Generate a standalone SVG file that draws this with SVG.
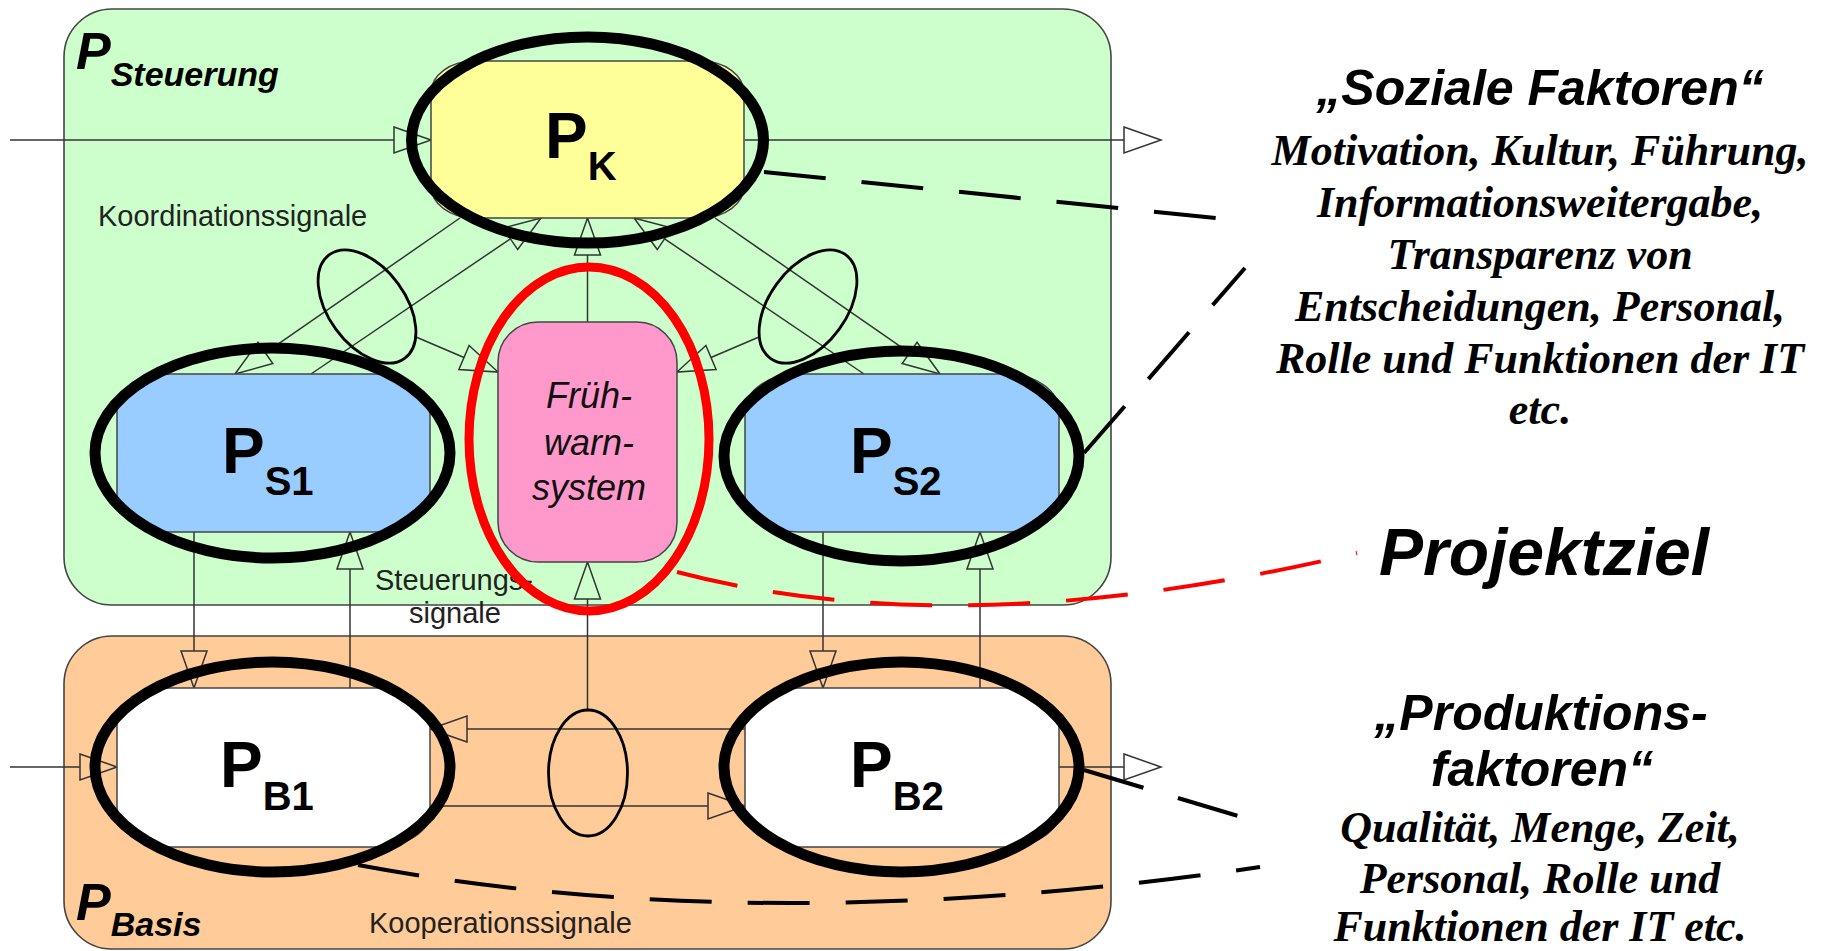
<svg xmlns="http://www.w3.org/2000/svg" width="1825" height="951" viewBox="0 0 1825 951">
<defs>
<style>
.cont{stroke:#444;stroke-width:1.6}
.box{stroke:#444;stroke-width:1.5}
.con{fill:none;stroke:#333;stroke-width:1.5;marker-end:url(#ah)}
.bund{fill:none;stroke:#000;stroke-width:2.8}
.thick{fill:none;stroke:#000;stroke-width:11}
.red{fill:none;stroke:#f00;stroke-width:9}
.dash{fill:none;stroke:#000;stroke-width:4;stroke-dasharray:62 36}
.rdash{fill:none;stroke:#f00;stroke-width:4;stroke-dasharray:62 36}
.lbl{font-family:"Liberation Sans",Arial,sans-serif;font-size:29px;fill:#222}
.np{font-family:"Liberation Sans",Arial,sans-serif;font-weight:bold;font-size:64px;fill:#000}
.sub{font-size:40px}
.cp{font-family:"Liberation Sans",Arial,sans-serif;font-weight:bold;font-style:italic;font-size:52px;fill:#000}
.csub{font-size:34px}
.fws{font-family:"Liberation Sans",Arial,sans-serif;font-style:italic;font-size:36px;text-anchor:middle;fill:#111}
.hd{font-family:"Liberation Sans",Arial,sans-serif;font-weight:bold;font-style:italic;font-size:50px;text-anchor:middle;fill:#000}
.sf{font-family:"Liberation Serif","Times New Roman",serif;font-weight:bold;font-style:italic;font-size:44px;text-anchor:middle;fill:#000}
</style>
<marker id="ah" markerUnits="userSpaceOnUse" markerWidth="40" markerHeight="28" refX="0" refY="13" orient="auto" overflow="visible">
<path d="M0,0 L37,13 L0,26 Z" fill="none" stroke="#333" stroke-width="1.5"/>
</marker>
</defs>

<g id="P_Steuerung">
<rect class="cont" x="64" y="9" width="1047" height="596" rx="48" fill="#CCFFCC"/>
<text class="cp" x="76" y="69">P<tspan class="csub" dy="17">Steuerung</tspan></text>
</g>
<g id="P_Basis">
<rect class="cont" x="64" y="636" width="1047" height="313" rx="48" fill="#FFCC99"/>
<text class="cp" x="76" y="920">P<tspan class="csub" dy="16">Basis</tspan></text>
</g>

<g id="labels">
<text class="lbl" x="98" y="226">Koordinationssignale</text>
<text class="lbl" x="375" y="590">Steuerungs-</text>
<text class="lbl" x="409" y="623">signale</text>
<text class="lbl" x="369" y="933">Kooperationssignale</text>
</g>

<g id="connectors">
<path class="con" d="M10 140 H394"/>
<path class="con" d="M745 140 H1124"/>
<path class="con" d="M10 767 H80"/>
<path class="con" d="M1059 767 H1124"/>
<path class="con" d="M460 218 L265.4 352.9"/>
<path class="con" d="M311 374 L510.4 238.8"/>
<path class="con" d="M864 374 L664.6 238.8"/>
<path class="con" d="M715 218 L909.6 352.9"/>
<path class="con" d="M416 337 L464 357.5"/>
<path class="con" d="M759 337 L711 357.5"/>
<path class="con" d="M587.5 322 V255"/>
<path class="con" d="M587.5 710 V599"/>
<path class="con" d="M194 532 V651"/>
<path class="con" d="M350 688 V569"/>
<path class="con" d="M823 532 V651"/>
<path class="con" d="M980 688 V569"/>
<path class="con" d="M745 729 H467"/>
<path class="con" d="M430 806 H708"/>
<ellipse class="bund" cx="367" cy="306.5" rx="38.6" ry="64" transform="rotate(-36 367 306.5)"/>
<ellipse class="bund" cx="808" cy="306.5" rx="38.6" ry="64" transform="rotate(36 808 306.5)"/>
<ellipse class="bund" cx="588" cy="773" rx="39.5" ry="63"/>
</g>

<g id="PK">
<rect class="box" x="431" y="61" width="313" height="157" rx="43" ry="32" fill="#FFFF99"/>
<ellipse class="thick" cx="587.5" cy="140" rx="176" ry="103"/>
<text class="np" x="545" y="158">P<tspan class="sub" dy="22">K</tspan></text>
</g>
<g id="PS1">
<rect class="box" x="117" y="374" width="313" height="158" rx="53" ry="37" fill="#99CCFF"/>
<ellipse class="thick" cx="272.5" cy="453" rx="177.5" ry="105"/>
<text class="np" x="222" y="473">P<tspan class="sub" dy="22">S1</tspan></text>
</g>
<g id="PS2">
<rect class="box" x="745" y="374" width="314" height="158" rx="53" ry="37" fill="#99CCFF"/>
<ellipse class="thick" cx="901.5" cy="456" rx="177.5" ry="105"/>
<text class="np" x="850" y="473">P<tspan class="sub" dy="22">S2</tspan></text>
</g>
<g id="FWS">
<rect class="box" x="498" y="322" width="179" height="240" rx="40" fill="#FF99CC"/>
<ellipse class="red" cx="589" cy="439" rx="120" ry="172"/>
<text class="fws" x="589" y="408">Früh-</text>
<text class="fws" x="589" y="455">warn-</text>
<text class="fws" x="589" y="500">system</text>
</g>
<g id="PB1">
<rect class="box" x="117" y="688" width="313" height="159" rx="53" ry="35" fill="#FFFFFF"/>
<ellipse class="thick" cx="272.5" cy="767" rx="177.5" ry="105"/>
<text class="np" x="220" y="787">P<tspan class="sub" dy="23">B1</tspan></text>
</g>
<g id="PB2">
<rect class="box" x="745" y="688" width="314" height="159" rx="53" ry="35" fill="#FFFFFF"/>
<ellipse class="thick" cx="901.5" cy="767" rx="177.5" ry="105"/>
<text class="np" x="850" y="787">P<tspan class="sub" dy="23">B2</tspan></text>
</g>

<g id="annotations">
<path class="dash" d="M764 172 L1245 221"/>
<path class="dash" d="M1084 453 L1245 268"/>
<path class="dash" d="M1084 770 L1245 818"/>
<path class="dash" d="M358 865 Q760 940 1260 867"/>
<path class="rdash" d="M677 572 Q963 647 1357 553"/>
</g>

<g id="soziale">
<text class="hd" x="1540" y="105">„Soziale Faktoren“</text>
<text class="sf" x="1540" y="165">Motivation, Kultur, Führung,</text>
<text class="sf" x="1540" y="217">Informationsweitergabe,</text>
<text class="sf" x="1540" y="269">Transparenz von</text>
<text class="sf" x="1540" y="321">Entscheidungen, Personal,</text>
<text class="sf" x="1540" y="373">Rolle und Funktionen der IT</text>
<text class="sf" x="1540" y="424">etc.</text>
</g>
<g id="projektziel">
<text class="hd" x="1544" y="575" style="font-size:66px">Projektziel</text>
</g>
<g id="produktion">
<text class="hd" x="1541" y="730">„Produktions-</text>
<text class="hd" x="1542" y="786">faktoren“</text>
<text class="sf" x="1540" y="842">Qualität, Menge, Zeit,</text>
<text class="sf" x="1540" y="893">Personal, Rolle und</text>
<text class="sf" x="1540" y="941">Funktionen der IT etc.</text>
</g>
</svg>
